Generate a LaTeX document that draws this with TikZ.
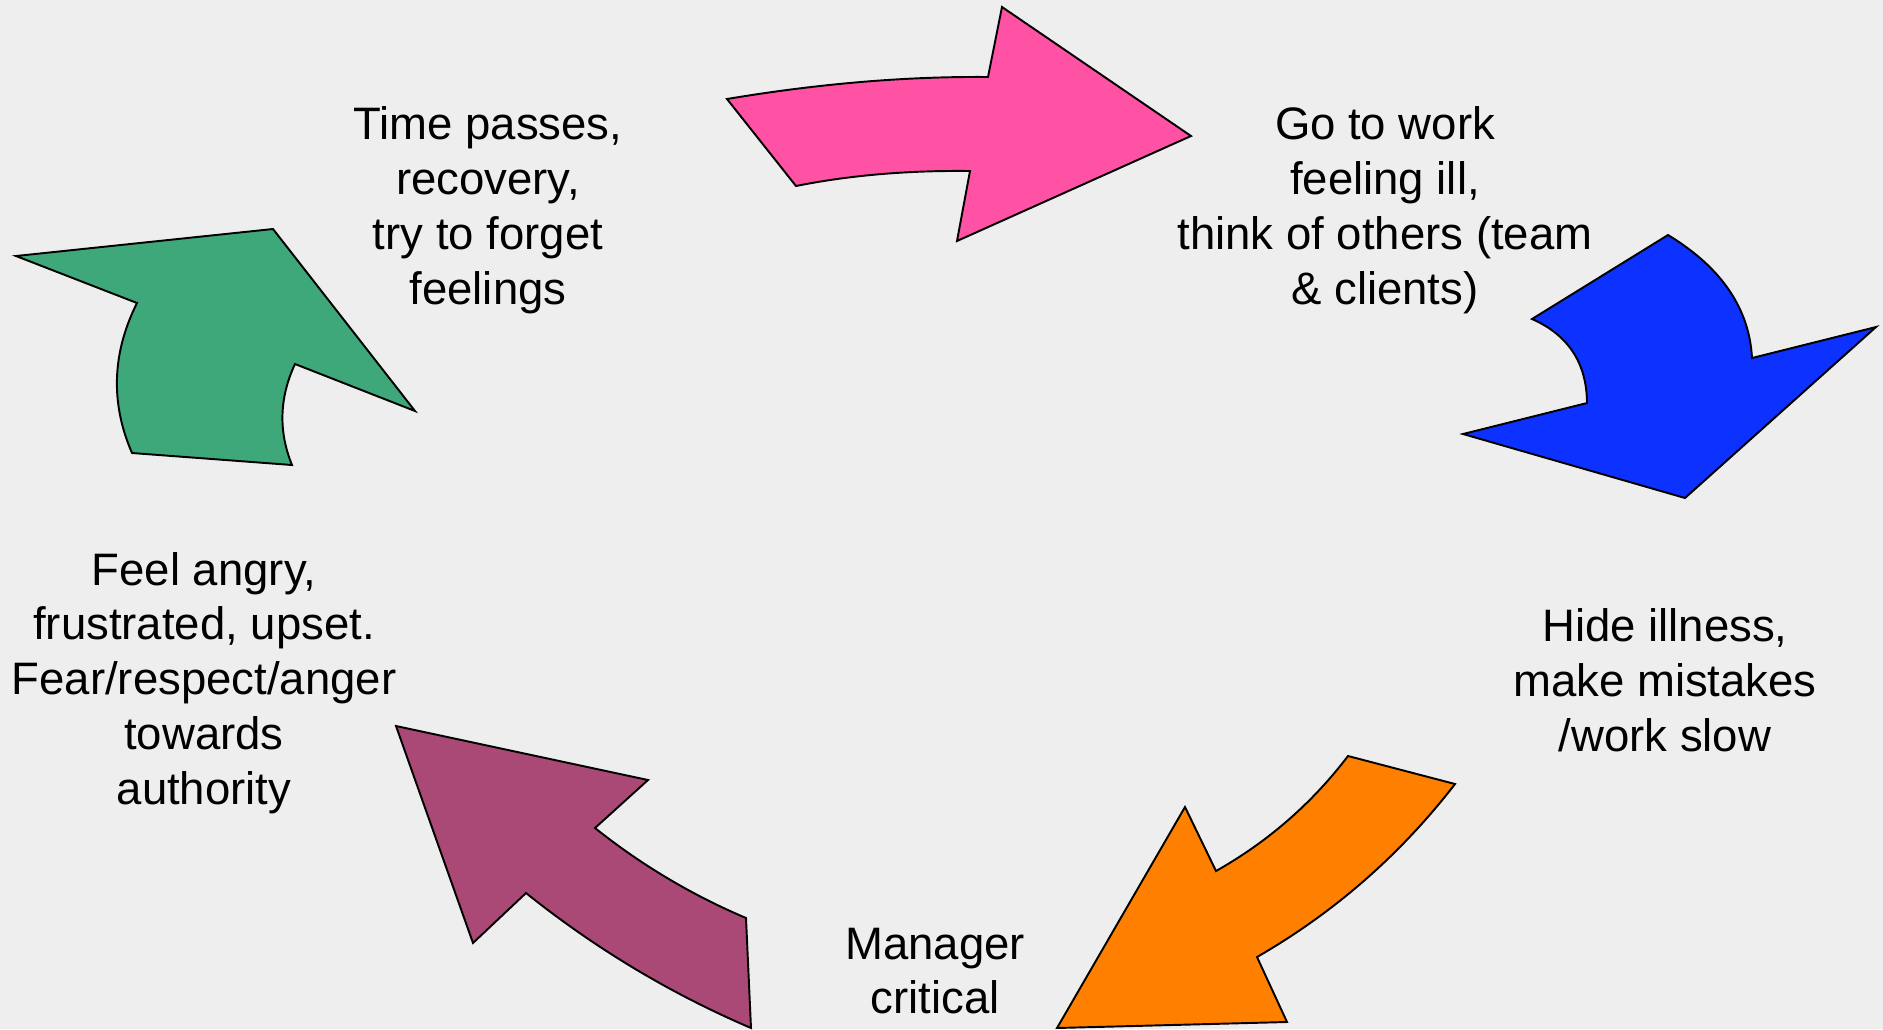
\documentclass[tikz,border=0pt]{standalone}
\usepackage{fontspec}
\setmainfont{Liberation Sans}
\usepackage{tikz}

\definecolor{bgGrey}{RGB}{238,238,238}
\definecolor{cyPink}{RGB}{255,82,164}
\definecolor{cyBlue}{RGB}{13,50,255}
\definecolor{cyOrange}{RGB}{255,128,0}
\definecolor{cyPlum}{RGB}{170,73,117}
\definecolor{cyGreen}{RGB}{62,168,122}

\tikzset{
  cyarrow/.style={draw=black, line width=1.1pt, line join=miter},
  cytext/.style={font=\fontsize{25.9}{31.2}\selectfont, align=center, inner sep=0pt}
}

\begin{document}
\begin{tikzpicture}[x=0.02cm, y=-0.02cm]

		\fill [bgGrey] (0,0) rectangle (1883,1029);
		\useasboundingbox (0,0) rectangle (1883,1029);
		% top arrow
		\draw [cyarrow, fill=cyPink] (727,99) .. controls (818.3,83.7) and (905.3,76.3) .. (988,77) -- (1002,7) -- (1191,136) -- (957,241) -- (970,171) .. controls (907.3,170.3) and (849.3,175.3) .. (796,186) -- cycle;
		% right arrow
		\draw [cyarrow, fill=cyBlue] (1668,235) .. controls (1721.3,267.3) and (1749.3,308.3) .. (1752,358) -- (1876,327) -- (1685,498) -- (1463,434) -- (1587,403) .. controls (1586.7,363) and (1568.3,335) .. (1532,319) -- cycle;
		% lower right arrow
		\draw [cyarrow, fill=cyOrange] (1348,756) -- (1455,784) .. controls (1400.4,854.7) and (1334.4,912.4) .. (1257,957) -- (1287,1022) -- (1057,1028) -- (1185,807) -- (1216,871) .. controls (1267.9,841.7) and (1311.9,803.4) .. cycle;
		% lower left arrow
		\draw [cyarrow, fill=cyPlum] (396,726) -- (648,780) -- (595,828) .. controls (641.3,864.9) and (691.6,894.9) .. (746,918) -- (751,1028) .. controls (669.9,993.3) and (595.1,948.3) .. (526,893) -- (473,943) -- cycle;
		% left arrow
		\draw [cyarrow, fill=cyGreen] (16,256) -- (273,229) -- (415,411) -- (295,364) .. controls (279.3,397.7) and (278.3,431.3) .. (292,465) -- (132,453) .. controls (110.3,403) and (112,353) .. (137,303) -- cycle;
		% steps of the cycle
		\node [cytext] (gowork) at (1385,210) {Go to work\\feeling ill,\\think of others (team\\\& clients)};
		\node [cytext] (hide) at (1665,680) {Hide illness,\\make mistakes\\/work slow};
		\node [cytext] (manager) at (935,971) {Manager\\critical};
		\node [cytext] (angry) at (204,683) {Feel angry,\\frustrated, upset.\\Fear/respect/anger\\towards\\authority};
		\node [cytext] (timepasses) at (488,210) {Time passes,\\recovery,\\try to forget\\feelings};
	\end{tikzpicture}
\end{document}
